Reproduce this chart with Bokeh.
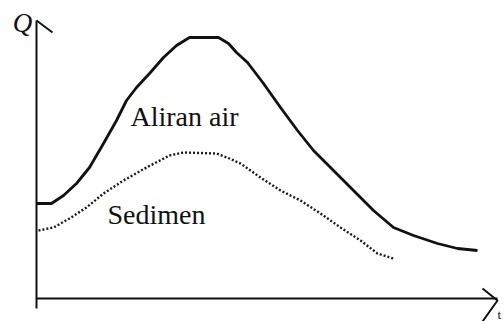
from bokeh.plotting import figure
from bokeh.models import Range1d
from bokeh.core.properties import value
from bokeh.embed import file_html
from bokeh.resources import INLINE

# Hydrograph: discharge (Aliran air) and sediment load (Sedimen) over time
flow_t = [0.0, 1.5, 2.7, 4.0, 5.3, 6.7, 8.0, 9.0, 10.0, 11.3, 12.7, 14.0, 15.3,
          18.2, 19.2, 20.0, 21.1, 22.7, 24.4, 26.1, 27.7, 29.7, 31.7, 33.7,
          35.7, 37.7, 40.1, 42.1, 44.1]
flow_q = [9.5, 9.5, 10.3, 11.5, 13.1, 15.5, 17.8, 19.8, 21.1, 22.5, 24.1, 25.3,
          26.1, 26.1, 25.5, 24.6, 23.6, 21.5, 19.1, 16.8, 14.8, 12.8, 10.8, 8.8,
          7.1, 6.3, 5.5, 5.0, 4.8]

sed_t = [0.2, 1.7, 3.3, 5.0, 6.7, 8.7, 11.0, 13.3, 14.7, 18.0, 19.3, 20.4,
         22.4, 24.4, 26.4, 28.4, 30.4, 32.4, 34.1, 35.7]
sed_q = [6.8, 7.1, 8.0, 9.1, 10.5, 11.8, 13.1, 14.3, 14.6, 14.5, 14.0, 13.5,
         12.1, 10.8, 9.8, 8.5, 7.1, 5.8, 4.5, 4.0]

ink = "#111111"
serif = value("Liberation Serif")

p = figure(width=504, height=321, output_backend="svg", toolbar_location=None,
           x_range=Range1d(-3.6, 46.8), y_range=Range1d(-2.3, 29.8),
           min_border=0, background_fill_color="white",
           border_fill_color="white", outline_line_color=None)
p.axis.visible = False
p.grid.visible = False

# hand-drawn axes with arrow heads
p.line([0, 0], [-1.0, 27.8], line_color=ink, line_width=2)
p.line([0, 1.6], [27.8, 26.6], line_color=ink, line_width=2)
p.line([0, 46.1], [0, 0], line_color=ink, line_width=2)
p.line([44.6, 46.1, 44.6], [1.0, -0.2, -2.3], line_color=ink, line_width=2)

# curves
p.line(flow_t, flow_q, line_color=ink, line_width=2.8, line_join="round")
p.line(sed_t, sed_q, line_color="#221616", line_width=2.4, line_dash="2 2")

# curve labels
p.text([9.4], [17.1], text=["Aliran air"], text_font=serif,
       text_font_style="normal", text_font_size="28px", text_align="left",
       text_baseline="middle", y_offset=-11, text_color=ink)
p.text([7.1], [7.3], text=["Sedimen"], text_font=serif,
       text_font_style="normal", text_font_size="28px", text_align="left",
       text_baseline="middle", y_offset=-11, text_color=ink)

# axis labels
p.text([46.1], [-1.6], text=["t"], text_font=serif, text_font_size="13px",
       text_align="left", text_baseline="middle", text_color=ink)
p.text([-1.4], [27.6], text=["Q"], text_font=serif, text_font_style="italic",
       text_font_size="27px", text_align="center", text_baseline="middle",
       text_color=ink)

open("out.html", "w").write(file_html(p, INLINE))
